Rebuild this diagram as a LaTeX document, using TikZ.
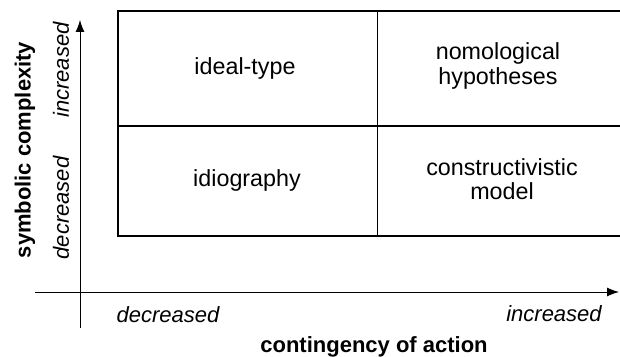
\documentclass[tikz,border=0pt]{standalone}
\usepackage{fontspec}
\setmainfont{Liberation Sans}
\usetikzlibrary{arrows.meta}

\tikzset{
  cell/.style = {align=center, font=\fontsize{23.3}{24.5}\selectfont},
  axislabel/.style = {font=\fontsize{22}{24}\selectfont\itshape},
  axisname/.style = {font=\fontsize{22}{24}\selectfont\bfseries},
  axis/.style = {line width=0.9pt, -{Latex[length=12pt,width=9pt]}}
}

\begin{document}
\begin{tikzpicture}[x=1pt, y=1pt]
      \useasboundingbox (0,0) rectangle (620,356);
      \clip (0,0) rectangle (620,356);

      % the four fields
      \draw[line width=1.6pt] (630,345) -- (118,345) -- (118,120) -- (630,120);
      \draw[line width=1.4pt] (118,230) -- (630,230);
      \draw[line width=0.9pt] (377,345) -- (377,120);

      \node[cell] (ideal) at (245,288) {ideal-type};
      \node[cell] (idio) at (247,176) {idiography};
      \node[cell] (nomo) at (498,290) {nomological\\hypotheses};
      \node[cell] (constr) at (502,177) {constructivistic\\model};

      % axes
      \coordinate (ybottom) at (80,28);
      \coordinate (ytop) at (80,336);
      \coordinate (xleft) at (35,64);
      \coordinate (xright) at (619,64);
      \draw[axis] (ybottom) -- (ytop);
      \draw[axis] (xleft) -- (xright);

      \node[axislabel] (xlow) at (168,41) {decreased};
      \node[axislabel] (xhigh) at (554,42) {increased};
      \node[axisname, anchor=base] (xname) at (374,4) {contingency of action};

      \node[axisname, rotate=90] (yname) at (25,206) {symbolic complexity};
      \node[axislabel, rotate=90] (yhigh) at (61,286) {increased};
      \node[axislabel, rotate=90] (ylow) at (61,148) {decreased};
\end{tikzpicture}
\end{document}
